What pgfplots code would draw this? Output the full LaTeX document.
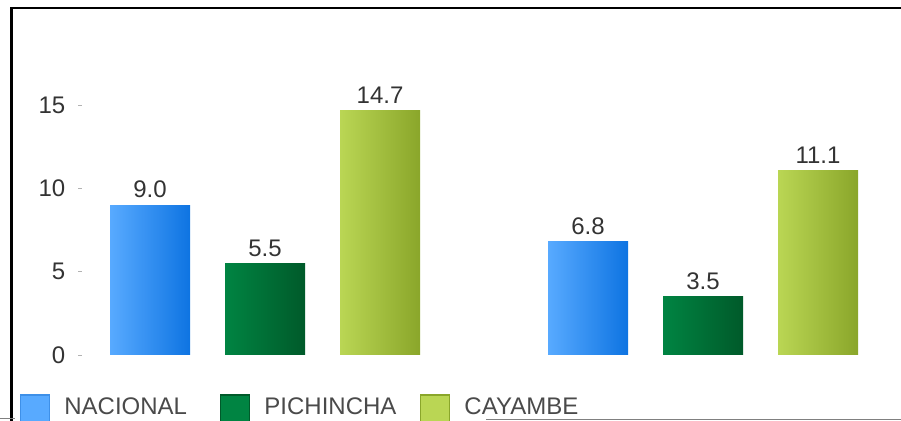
\documentclass[border=0pt]{standalone}
\usepackage{pgfplots}
\pgfplotsset{compat=1.18}
\usepackage{fontspec}
\setmainfont{Liberation Sans}
\definecolor{nacL}{HTML}{58AAFF}
\definecolor{nacR}{HTML}{0E74E2}
\definecolor{picL}{HTML}{008442}
\definecolor{picR}{HTML}{005A2A}
\definecolor{cayL}{HTML}{BAD654}
\definecolor{cayR}{HTML}{8AA62A}
\definecolor{txt}{HTML}{333333}
\definecolor{legtxt}{HTML}{4A4A4A}
\begin{document}
\begin{tikzpicture}
\useasboundingbox (0,0) rectangle (675.75pt,315.75pt);
\clip (0,0) rectangle (675.75pt,315.75pt);
\begin{axis}[
  at={(61.5pt,49.5pt)}, anchor=south west,
  scale only axis, width=606pt, height=249.75pt,
  xmin=-0.418, xmax=1.427, ymin=0, ymax=20,
  axis x line=none, axis y line*=left,
  y axis line style={draw=none},
  ytick={0,5,10,15},
  ytick style={draw=gray!60, line width=0.6pt},
  tick align=outside, major tick length=3pt,
  yticklabel style={font=\fontsize{18}{20}\selectfont, text=txt, anchor=east, xshift=-6pt},
  /pgf/number format/assume math mode=true,
  ybar, bar width=60pt,
  nodes near coords,
  point meta=y,
  nodes near coords style={font=\fontsize{18}{20}\selectfont, text=txt, anchor=south, inner sep=0pt, yshift=5pt,
     /pgf/number format/fixed, /pgf/number format/fixed zerofill, /pgf/number format/precision=1},
  legend style={at={(-0.0767,-0.1637)}, anchor=west, draw=none, fill=none, inner sep=0pt,
     legend columns=-1, font=\fontsize{18}{20}\selectfont, text=legtxt,
     nodes={inner sep=0pt},
     /tikz/every odd column/.append style={column sep=10.5pt},
     /tikz/every even column/.append style={column sep=0pt}},
  legsq/.style={legend image code/.code={\filldraw[line width=0.8pt] (0pt,-12.4pt) rectangle (21.75pt,9.35pt);}},
  nac/.style={forget plot, draw=none, left color=nacL, right color=nacR, bar shift=-86.25pt},
  pic/.style={forget plot, draw=none, left color=picL, right color=picR, bar shift=0pt},
  cay/.style={forget plot, draw=none, left color=cayL, right color=cayR, bar shift=86.25pt},
]
\addlegendimage{legsq, fill=nacL, draw=nacR!80}
\addlegendentry{\makebox[117pt][l]{NACIONAL}}
\addlegendimage{legsq, fill=picL, draw=picR}
\addlegendentry{\makebox[117pt][l]{PICHINCHA}}
\addlegendimage{legsq, fill=cayL, draw=cayR}
\addlegendentry{\makebox[117pt][l]{CAYAMBE}}
% NACIONAL
\addplot[nac] coordinates {(0,9.0)};
\addplot[nac] coordinates {(1,6.8)};
% PICHINCHA
\addplot[pic] coordinates {(0,5.5)};
\addplot[pic] coordinates {(1,3.5)};
% CAYAMBE
\addplot[cay] coordinates {(0,14.7)};
\addplot[cay] coordinates {(1,11.1)};
\node[font=\fontsize{18}{20}\selectfont, text=txt, anchor=north] at (axis cs:0,0) [yshift=-7pt] {2001};
\node[font=\fontsize{18}{20}\selectfont, text=txt, anchor=north] at (axis cs:1,0) [yshift=-7pt] {2010};
\end{axis}
\draw[black, line width=1.8pt] (8.6pt,0) -- (8.6pt,309.75pt) -- (675.75pt,309.75pt);
\draw[gray, line width=0.8pt] (364.5pt,0.9pt) -- (675.75pt,0.9pt);
\draw[gray, line width=0.8pt] (0pt,1.8pt) -- (11pt,1.8pt);
\end{tikzpicture}
\end{document}
